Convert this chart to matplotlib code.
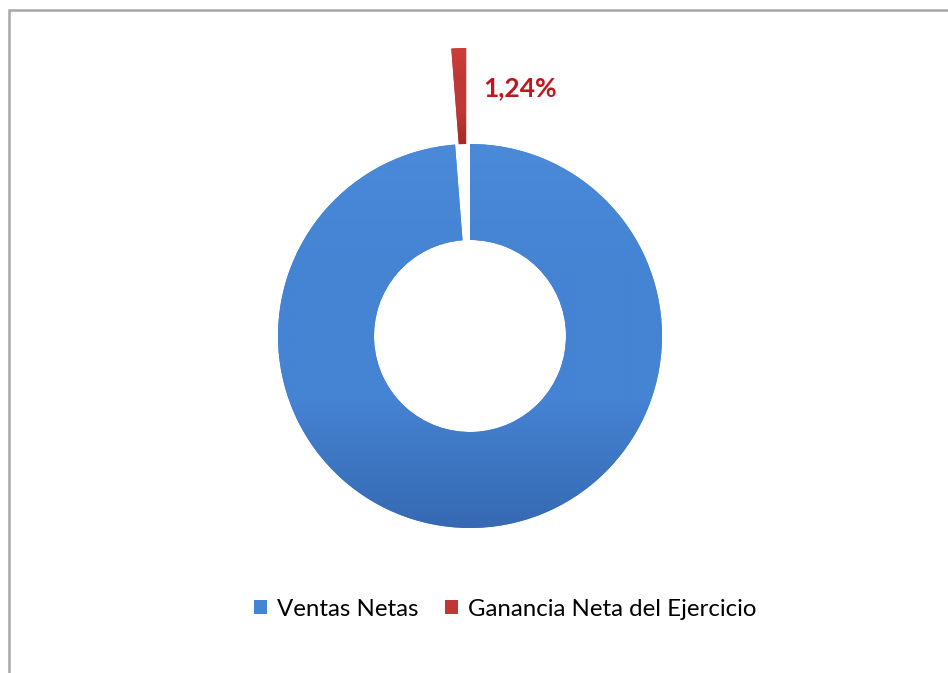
import numpy as np
import matplotlib
matplotlib.use("Agg")
import matplotlib.pyplot as plt
from matplotlib.patches import Rectangle
from matplotlib.colors import LinearSegmentedColormap

plt.rcParams["font.family"] = ["Lato", "DejaVu Sans"]

# participacion de la ganancia neta sobre las ventas netas
categorias = ["Ventas Netas", "Ganancia Neta del Ejercicio"]
valores = [98.76, 1.24]
colores = ["#4583d3", "#c03835"]
claros = ["#4a8ad9", "#cc3e3a"]
oscuros = ["#3669b2", "#a02b29"]
separacion = [0.0, 0.5]

W, H = 948, 673
fig = plt.figure(figsize=(W / 100, H / 100), dpi=100)
fig.patch.set_facecolor("white")

# eje que ocupa toda la figura, 1 unidad = radio exterior (192 px)
cx, cy, r = 470, 336, 192
ax = fig.add_axes([0, 0, 1, 1])

wedges, _ = ax.pie(valores, colors=colores, startangle=90, counterclock=False,
                   explode=separacion,
                   wedgeprops=dict(width=0.5, linewidth=0))

# degradado vertical dentro de cada porcion (mas oscuro abajo)
grad = np.linspace(0, 1, 256).reshape(-1, 1)
for w, c0, c1, c2 in zip(wedges, claros, colores, oscuros):
    cmap = LinearSegmentedColormap.from_list("g", [c0, c1, c1, c2])
    x0, y0, x1, y1 = w.get_path().get_extents().extents
    im = ax.imshow(grad, cmap=cmap, extent=(x0, x1, y0, y1), origin="upper",
                   aspect="auto", zorder=w.get_zorder() + 0.1, interpolation="bilinear")
    im.set_clip_path(w)

ax.set_xlim(-cx / r, (W - cx) / r)
ax.set_ylim(-(H - cy) / r, cy / r)
ax.set_aspect("auto")
ax.axis("off")

# etiqueta del porcentaje junto a la porcion separada
etiqueta = f"{valores[1]:.2f}%".replace(".", ",")
ax.text((483 - cx) / r, (cy - 88) / r, etiqueta, color="#c0171c",
        fontsize=19, fontweight="bold", ha="left", va="center")

# leyenda inferior
ax.legend(wedges, categorias, loc="center", bbox_to_anchor=(505 / W, 1 - 609 / H),
          bbox_transform=fig.transFigure, ncol=2, frameon=False, fontsize=17.3,
          handlelength=0.55, handleheight=0.55, handletextpad=0.4, columnspacing=1.1)

# marco del area del grafico
fig.patches.append(Rectangle((9 / W, -0.05), 1.1, 1 - 10 / H + 0.05, transform=fig.transFigure,
                             fill=False, edgecolor="#a6a6a6", linewidth=1.8))

fig.savefig("out.png", dpi=100)
